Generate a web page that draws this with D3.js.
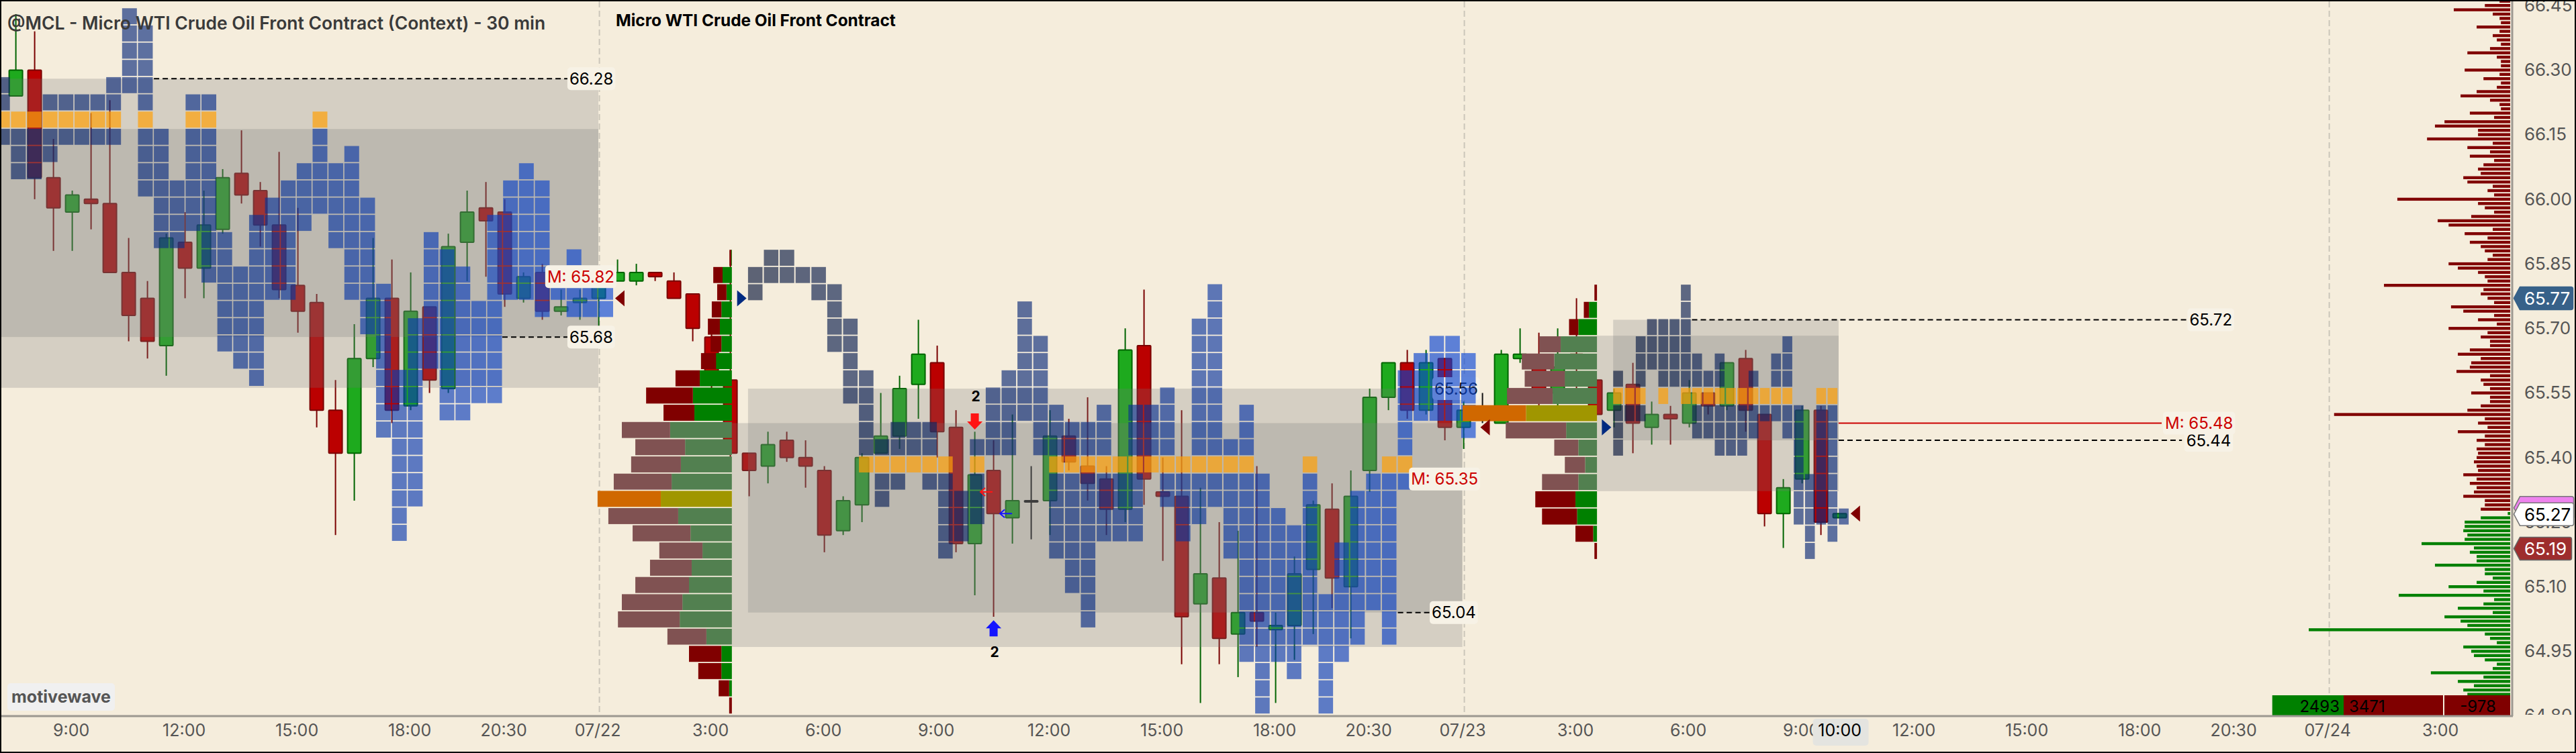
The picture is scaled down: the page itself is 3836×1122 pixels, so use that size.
<!DOCTYPE html>
<html lang="en">
	<head>
		<meta charset="UTF-8" />
		<script src="https://cdnjs.cloudflare.com/ajax/libs/d3/7.8.5/d3.min.js"></script>
		<title>@MCL - Micro WTI Crude Oil Front Contract</title>
		<style>
			html, body { margin: 0; padding: 0; background: #f5eddc; overflow: hidden; }
			svg { display: block; font-family: Inter, "Noto Sans", sans-serif; }
		</style>
	</head>
	<body>
		<div id="app"></div>
		<script>
			// 30 min bars, bar number is the x value
			const opens = [66.24,66.30,66.05,65.97,66.00,65.99,65.83,65.77,65.66,65.90,65.84,65.93,66.06,66.02,65.94,65.80,65.76,65.51,65.41,65.63,65.77,65.52,65.75,65.56,65.90,65.98,65.97,65.77,65.83,65.74,65.76,65.77,65.81,65.81,65.83,65.81,65.78,65.68,65.58,65.41,65.38,65.44,65.40,65.37,65.23,65.29,65.41,65.45,65.57,65.62,65.47,65.20,65.37,65.26,65.30,65.30,65.45,65.38,65.35,65.28,65.66,65.32,65.31,65.06,65.12,64.99,65.04,65.00,65.01,65.14,65.28,65.10,65.37,65.54,65.62,65.51,65.63,65.47,65.51,65.48,65.63,65.61,65.55,65.64,65.58,65.51,65.57,65.47,65.50,65.48,65.55,65.52,65.63,65.50,65.27,65.35,65.51,65.26]
			const highs = [66.43,66.39,66.14,66.02,66.20,66.23,65.91,65.81,65.92,65.97,66.02,66.07,66.16,66.04,66.11,65.98,65.78,65.58,65.71,65.91,65.86,65.83,65.75,65.92,66.02,66.04,66.00,65.83,65.85,65.79,65.79,65.81,65.86,65.85,65.83,65.83,65.78,65.69,65.88,65.41,65.46,65.46,65.44,65.38,65.31,65.41,65.55,65.59,65.72,65.66,65.51,65.46,65.44,65.50,65.38,65.51,65.49,65.54,65.38,65.70,65.79,65.40,65.51,65.33,65.25,65.23,65.38,65.04,65.17,65.30,65.34,65.37,65.56,65.62,65.65,65.65,65.63,65.53,65.55,65.65,65.70,65.69,65.70,65.77,65.60,65.56,65.62,65.53,65.52,65.58,65.55,65.62,65.65,65.50,65.35,65.52,65.52,65.27]
			const lows = [66.24,66.00,65.88,65.88,65.93,65.83,65.67,65.63,65.59,65.77,65.77,65.92,65.99,65.89,65.77,65.69,65.47,65.22,65.30,65.61,65.48,65.51,65.55,65.55,65.81,65.82,65.75,65.76,65.72,65.73,65.72,65.69,65.81,65.80,65.81,65.77,65.67,65.56,65.40,65.31,65.34,65.39,65.33,65.18,65.22,65.25,65.41,65.42,65.49,65.40,65.18,65.08,65.03,65.20,65.21,65.22,65.37,65.30,65.22,65.25,65.29,65.16,64.92,64.83,64.92,64.89,64.96,64.83,64.93,64.99,65.05,64.98,65.32,65.51,65.49,65.50,65.44,65.42,65.48,65.48,65.62,65.52,65.52,65.54,65.50,65.47,65.41,65.43,65.43,65.47,65.50,65.51,65.46,65.24,65.19,65.34,65.22,65.26]
			const closes = [66.30,66.05,65.98,66.01,65.99,65.83,65.73,65.67,65.91,65.84,65.94,66.05,66.01,65.94,65.79,65.74,65.51,65.41,65.63,65.77,65.51,65.74,65.58,65.89,65.97,65.95,65.78,65.82,65.74,65.75,65.77,65.80,65.83,65.83,65.82,65.77,65.70,65.60,65.41,65.37,65.43,65.40,65.38,65.22,65.30,65.40,65.45,65.56,65.64,65.46,65.20,65.36,65.27,65.30,65.30,65.45,65.39,65.34,65.28,65.65,65.35,65.31,65.03,65.13,64.98,65.04,65.02,65.01,65.13,65.29,65.12,65.31,65.54,65.62,65.51,65.62,65.47,65.51,65.51,65.64,65.64,65.55,65.61,65.62,65.50,65.55,65.48,65.50,65.49,65.55,65.52,65.62,65.51,65.27,65.33,65.51,65.25,65.27]

			// axes
			const tickBars = [3,9,15,21,26,31,37,43,49,55,61,67,72,77,83,89,95,101,107,113,118,123,129]
			const tickLabels = ['9:00','12:00','15:00','18:00','20:30','07/22','3:00','6:00','9:00','12:00','15:00','18:00','20:30','07/23','3:00','6:00','9:00','12:00','15:00','18:00','20:30','07/24','3:00']
			const priceTicks = [66.45,66.30,66.15,66.00,65.85,65.70,65.55,65.40,65.25,65.10,64.95,64.80]
			const dayBars = [31,77,123]

			// letter profile, column numbers per 4 cent row, top row first
			const tpoColsA = [
				[8],[8,9],[8,9],[8,9],[0,7,8,9],
				[0,3,4,5,6,7,9,12,13],
				[0,1,2,3,4,5,6,7,9,12,13,20],
				[0,1,2,3,4,5,6,7,9,10,12,13,20],
				[1,2,3,9,10,12,13,20,22],
				[1,2,9,10,12,13,19,20,21,22,33],
				[9,10,11,12,13,18,19,20,21,22,32,33,34],
				[10,11,12,13,17,18,19,20,21,22,23,32,33,34],
				[10,11,12,13,16,17,18,19,21,22,23,31,32,33,34],
				[10,11,13,14,16,17,18,21,22,23,27,31,32,33,34],
				[13,14,16,17,18,22,23,27,28,31,32,33,34,36],
				[13,14,15,16,17,18,22,23,27,28,29,31,32,33,34,36],
				[14,15,16,17,18,22,23,24,27,28,29,31,32,33,34,35,36,37,38],
				[14,15,16,23,24,27,28,29,30,31,34,36,37,38],
				[14,15,16,23,24,26,27,28,29,30,31],
				[14,15,16,24,26,27,28,29,30,31],
				[15,16,24,26,27,28,29,30,31],
				[16,24,25,26,28,29,30,31],
				[24,25,26,28,29,30,31],
				[24,25,26,28,29],
				[24,25,26],
				[25,26],[25,26],[25,26],[25,26],[25],[25]
			]
			const tpoColsB = [
				[1,2],
				[0,1,2,3,4],
				[0,4,5,29],
				[5,17,29],
				[5,6,17,28,29],
				[5,6,17,18,28,29,43,44],
				[6,17,18,28,29,42,43,44,45],
				[6,7,16,17,18,28,29,41,42,43,44,45],
				[6,7,15,16,17,18,26,28,29,41,42,43,44,45],
				[7,15,16,17,18,19,22,24,25,26,28,29,31,41,42,43,44,45],
				[7,9,10,11,15,16,18,19,20,21,22,24,25,26,28,29,31,41,45],
				[7,8,9,10,11,14,15,16,18,19,20,21,22,24,25,26,28,29,30,31,41],
				[7,8,9,10,11,12,14,19,20,21,22,23,24,25,26,27,28,29,30,31,35,40,41],
				[8,9,11,12,14,19,20,21,22,23,24,26,27,28,29,30,31,32,35,39,40,41],
				[8,12,13,14,19,20,21,22,23,24,26,27,28,29,30,31,32,35,38,39,40],
				[12,13,14,19,20,21,22,23,24,27,28,30,31,32,33,35,38,39,40],
				[12,13,19,20,21,22,23,24,27,30,31,32,33,34,35,38,39,40],
				[12,19,20,21,30,31,32,33,34,35,37,38,39,40],
				[20,21,31,32,33,34,35,37,38,39,40],
				[20,21,31,32,33,34,35,37,38,39,40],
				[21,31,32,33,34,35,36,37,38,39,40],
				[21,31,32,33,34,35,36,37,38,40],
				[31,32,33,34,35,36,37,38,40],
				[31,32,33,34,36,37],
				[32,34,36],
				[32,36],
				[32,36]
			]
			const tpoColsC = [
				[6],[6],[3,4,5,6],
				[2,3,4,5,6,15],
				[2,3,4,5,6,7,9,14,15],
				[0,2,4,5,6,7,8,9,12,14,15],
				[0,1,2,4,6,7,8,9,10,11,12,13,14,15,18,19],
				[0,1,2,7,8,9,10,11,12,13,14,15,16,18,19],
				[0,7,8,9,10,11,12,15,16,18,19],
				[0,9,10,11,16,18,19],
				[16,18,19],
				[16,17,18,19],
				[16,17,18,19],
				[16,17,18,19,20],
				[17,19],
				[17]
			]
			const tpoTopRow = [66.425,65.864,65.783]
			const tpoPocRow = [6,12,6]

			// volume by price next to each day, 4 cent rows, same row order as above
			const sellB = [6,31,31,32,40,36,50,81,156,103,161,166,166,193,211,233,193,144,139,179,202,206,130,108,77,35,9]
			const buyB = [2,31,18,35,40,35,53,107,130,125,206,156,170,201,237,179,138,98,134,143,165,174,85,35,35,9,0]
			const sellC = [8,16,29,66,101,125,142,197,188,75,63,113,125,109,55,8]
			const buyC = [0,25,58,113,133,100,138,221,96,58,37,58,67,62,12,0]

			// value areas
			const zoneTop = [66.163,66.28,65.48,65.56,65.683,65.72]
			const zoneBottom = [65.562,65.68,64.96,65.04,65.322,65.44]
			const zoneFrom = [-1,-1,38.08,38.94,84.09,84.95]
			const zoneTo = [30.98,30.98,76.93,76.93,96.94,96.94]

			// volume at price on the right, one row per cent, 66.46 down to 64.85
			const askVol = [39,93,207,64,39,34,123,39,64,49,34,74,157,49,34,34,167,39,98,34,49,123,182,74,39,34,148,59,241,276,118,118,305,64,157,74,148,59,98,118,108,172,157,64,83,59,414,118,93,59,143,266,226,64,167,83,148,108,93,64,83,226,192,118,93,83,463,98,108,83,59,217,172,59,118,49,226,83,108,74,74,148,192,108,143,148,197,74,108,98,74,143,74,74,108,157,646,93,118,83,192,93,123,93,123,118,123,133,123,118,172,123,148,123,133,172,93,93,108]
			const bidVol = [9,108,167,167,172,157,167,325,133,148,123,123,276,93,93,64,123,226,98,409,59,98,192,64,241,182,157,739,93,74,49,172,143,133,93,49,64,291,98,192,133,172,157]

			// text on the chart
			const levelPrices = [66.28,65.68,65.56,65.04,65.72,65.44]
			const levelFromBars = [7.34,25.87,null,73.5,89.14,96.94]
			const levelToBars = [29.34,29.34,null,75.18,115.55,115.2]
			const levelTextBars = [29.44,29.44,75.44,75.3,115.6,115.43]
			const midPrices = [65.82,65.35,65.48]
			const midTextBars = [28.26,74.2,114.3]
			const tagPrices = [65.77,65.27,65.19]
			const tagText = ['65.77','65.27','65.19']
			const sessionEndBars = [31.87,77.89,97.58]
			const sessionEndPrices = [65.77,65.47,65.27]
			const sessionOpenBars = [38.86,84.85]
			const sessionOpenPrices = [65.77,65.47]
			const deltaBuy = 2493
			const deltaSell = 3471
			const deltaNet = -978

			const width = 3836
			const height = 1122
			const axisX = 3741
			const axisY = 1067
			const bg = '#f5eddc'

			const x = d3.scaleLinear().domain([0, 100]).range([23.6, 2823.6])
			const y = d3.scaleLinear().domain([65.7, 64.8]).range([489.3, 1066.65])

			const svg = d3
				.select('#app')
				.append('svg')
				.attr('width', width)
				.attr('height', height)

			svg.append('rect').attr('width', width).attr('height', height).attr('fill', bg)

			const defs = svg.append('defs')
			defs.append('clipPath').attr('id', 'priceClip').append('rect').attr('x', axisX).attr('y', 0).attr('width', 100).attr('height', axisY - 2)

			// day separators
			svg.append('g')
				.selectAll('line')
				.data(dayBars)
				.join('line')
				.attr('x1', d => x(d) + 1)
				.attr('x2', d => x(d) + 1)
				.attr('y1', 2)
				.attr('y2', axisY - 5)
				.attr('stroke', '#cbc6ba')
				.attr('stroke-width', 2)
				.attr('stroke-dasharray', '9 5')

			// candles
			const barData = opens.map((o, i) => ({ i, o, h: highs[i], l: lows[i], c: closes[i] }))
			const wickColor = d => (d.c > d.o ? '#006400' : d.c < d.o ? '#7a0000' : '#111')
			const bodyColor = d => (d.c > d.o ? '#1eaa1e' : d.c < d.o ? '#bb0000' : '#111')
			const candle = svg.append('g').selectAll('g').data(barData).join('g')
			candle
				.append('line')
				.attr('x1', d => x(d.i))
				.attr('x2', d => x(d.i))
				.attr('y1', d => y(d.h))
				.attr('y2', d => y(d.l))
				.attr('stroke', wickColor)
				.attr('stroke-width', 2)
			candle
				.append('rect')
				.attr('x', d => x(d.i) - 10)
				.attr('width', 20)
				.attr('y', d => y(Math.max(d.o, d.c)))
				.attr('height', d => Math.max(2, Math.abs(y(d.o) - y(d.c))))
				.attr('fill', bodyColor)
				.attr('stroke', wickColor)
				.attr('stroke-width', 2)
				.attr('rx', 1)

			// value area boxes, they lie over the candles
			svg.append('g')
				.selectAll('rect')
				.data(zoneTop)
				.join('rect')
				.attr('x', (d, i) => Math.max(0, x(zoneFrom[i])))
				.attr('width', (d, i) => x(zoneTo[i]) - Math.max(0, x(zoneFrom[i])))
				.attr('y', d => y(d))
				.attr('height', (d, i) => y(zoneBottom[i]) - y(d))
				.attr('fill', '#787878')
				.attr('fill-opacity', 0.25)

			// level lines and their labels, blue cells go over them
			function tagLabel(g, px, py, txt, color, size) {
				const t = g
					.append('text')
					.attr('x', px)
					.attr('y', py)
					.attr('dy', '0.36em')
					.attr('font-size', size)
					.attr('fill', color)
					.text(txt)
				const box = t.node().getBBox()
				g.insert('rect', 'text')
					.attr('x', box.x - 3)
					.attr('y', py - 17)
					.attr('width', box.width + 6)
					.attr('height', 34)
					.attr('rx', 5)
					.attr('fill', '#f7f2e6')
			}

			const levels = svg.append('g')
			levelPrices.forEach((p, i) => {
				if (levelFromBars[i] !== null) {
					levels
						.append('line')
						.attr('x1', x(levelFromBars[i]))
						.attr('x2', x(levelToBars[i]))
						.attr('y1', y(p))
						.attr('y2', y(p))
						.attr('stroke', '#000')
						.attr('stroke-width', 2)
						.attr('stroke-dasharray', '8 5')
				}
				const color = i === 2 ? '#111' : '#000'
				tagLabel(levels.append('g'), x(levelTextBars[i]), y(p), p.toFixed(2), color, 24)
			})

			// letter profile cells
			const cellColor = d3.scaleLinear().domain([0, 1]).range(['rgb(11,25,62)', 'rgb(11,70,214)'])
			const tpoSets = [tpoColsA, tpoColsB, tpoColsC]
			const tpoLeft = [-7.3, 1113.9, 2402.3]
			const tpoStep = [23.64, 23.6, 16.8]
			const tpoWidth = [22, 21.6, 14.6]
			const tpoTime = [d => 0.25 + d * 0.0197, d => d / 45, d => d / 45]
			const rowH = 0.04

			tpoSets.forEach((rows, s) => {
				const cells = []
				rows.forEach((cols, r) => cols.forEach(c => cells.push({ r, c })))
				svg.append('g')
					.selectAll('rect')
					.data(cells)
					.join('rect')
					.attr('x', d => tpoLeft[s] + tpoStep[s] * d.c)
					.attr('width', tpoWidth[s])
					.attr('y', d => y(tpoTopRow[s] - rowH * d.r + rowH / 2) + 0.9)
					.attr('height', y(0) - y(rowH) - 1.8)
					.attr('fill', d => (d.r === tpoPocRow[s] ? 'rgb(254,160,9)' : cellColor(tpoTime[s](d.c))))
					.attr('fill-opacity', d => (d.r === tpoPocRow[s] ? 0.7 : 0.65))
			})

			// volume by price of the day
			function drawProfile(sell, buy, s, rightPx, maxVol, pocRow, vaFrom, vaTo) {
				const w = d3.scaleLinear().domain([0, maxVol]).range([0, 200])
				const g = svg.append('g')
				const rowTop = r => y(tpoTopRow[s] - rowH * r + rowH / 2) + 0.9
				const h = y(0) - y(rowH) - 1.8
				sell.forEach((v, r) => {
					const inVa = r >= vaFrom && r <= vaTo
					const buyW = w(buy[r])
					const sellW = w(v)
					g.append('rect')
						.attr('x', rightPx - buyW)
						.attr('width', buyW)
						.attr('y', rowTop(r))
						.attr('height', h)
						.attr('fill', r === pocRow ? '#a09600' : inVa ? '#528050' : '#008000')
					g.append('rect')
						.attr('x', rightPx - buyW - sellW)
						.attr('width', sellW)
						.attr('y', rowTop(r))
						.attr('height', h)
						.attr('fill', r === pocRow ? '#d06800' : inVa ? '#805252' : '#800000')
				})
			}
			drawProfile(sellB, buyB, 1, x(38.08), 448, 14, 10, 22)
			drawProfile(sellC, buyC, 2, x(84.09), 418, 7, 3, 11)

			// midpoint labels
			const mids = svg.append('g')
			mids.append('line')
				.attr('x1', x(zoneTo[5]))
				.attr('x2', 3219)
				.attr('y1', y(midPrices[2]))
				.attr('y2', y(midPrices[2]))
				.attr('stroke', '#cc0000')
				.attr('stroke-width', 2)
			midPrices.forEach((p, i) => {
				tagLabel(mids.append('g'), x(midTextBars[i]), y(p), 'M: ' + p.toFixed(2), '#cc0000', 24)
			})

			// session open and close markers
			const tri = svg.append('g')
			tri.selectAll('path.end')
				.data(sessionEndBars)
				.join('path')
				.attr('class', 'end')
				.attr('d', (d, i) => `M${x(d)},${y(sessionEndPrices[i])}l14,-12v24z`)
				.attr('fill', '#800000')
			tri.selectAll('path.open')
				.data(sessionOpenBars)
				.join('path')
				.attr('class', 'open')
				.attr('d', (d, i) => `M${x(d)},${y(sessionOpenPrices[i])}l-14,-12v24z`)
				.attr('fill', '#002a80')

			// pivot arrows with their count
			const marks = svg.append('g')
			marks.append('path').attr('d', `M${x(51)},${y(65.465)}l-11.5,-12h5.5v-12h12v12h5.5z`).attr('fill', '#ff1414')
			marks.append('path').attr('d', `M${x(52)},${y(65.022)}l-11.5,12h5.5v12h12v-12h5.5z`).attr('fill', '#1414ff')
			marks.append('text').attr('x', x(51.05)).attr('y', y(65.543)).attr('dy', '0.36em').attr('text-anchor', 'middle').attr('font-size', 21).attr('font-weight', 700).attr('fill', '#000').text('2')
			marks.append('text').attr('x', x(52.05)).attr('y', y(64.949)).attr('dy', '0.36em').attr('text-anchor', 'middle').attr('font-size', 21).attr('font-weight', 700).attr('fill', '#000').text('2')
			marks.append('path').attr('d', `M${x(51.3) + 18},${y(65.32)}h-18m7,-6l-7,6l7,6`).attr('fill', 'none').attr('stroke', '#ff1414').attr('stroke-width', 2)
			marks.append('path').attr('d', `M${x(52.34) + 18},${y(65.27)}h-18m7,-6l-7,6l7,6`).attr('fill', 'none').attr('stroke', '#1414ff').attr('stroke-width', 2)

			// volume at price on the right edge
			const volRight = 3738
			const volW = d3.scaleLinear().domain([0, 739]).range([0, 300])
			const volRows = askVol.map((v, i) => ({ v, p: 66.46 - i * 0.01, c: '#800000' })).concat(bidVol.map((v, i) => ({ v, p: 65.27 - i * 0.01, c: '#008000' })))
			svg.append('g')
				.selectAll('rect')
				.data(volRows)
				.join('rect')
				.attr('x', d => volRight - volW(d.v))
				.attr('width', d => volW(d.v))
				.attr('y', d => y(d.p) - 2.2)
				.attr('height', 4.4)
				.attr('fill', d => d.c)

			// delta box at the bottom
			const deltaW = d3.scaleLinear().domain([0, deltaSell]).range([0, 148])
			const delta = svg.append('g')
			const deltaLeft = 3490 - deltaW(deltaBuy)
			delta.append('rect').attr('x', deltaLeft).attr('y', 1036).attr('width', deltaW(deltaBuy)).attr('height', 31).attr('fill', '#008000')
			delta.append('rect').attr('x', 3490).attr('y', 1036).attr('width', deltaW(deltaSell)).attr('height', 31).attr('fill', '#800000')
			delta.append('rect').attr('x', 3640).attr('y', 1036).attr('width', 98).attr('height', 31).attr('fill', '#800000')
			delta.append('text').attr('x', 3484).attr('y', 1052).attr('dy', '0.36em').attr('text-anchor', 'end').attr('font-size', 24).attr('fill', '#000').text(deltaBuy)
			delta.append('text').attr('x', 3498).attr('y', 1052).attr('dy', '0.36em').attr('font-size', 24).attr('fill', '#000').text(deltaSell)
			delta.append('text').attr('x', 3690).attr('y', 1052).attr('dy', '0.36em').attr('text-anchor', 'middle').attr('font-size', 24).attr('fill', '#000').text(deltaNet)

			// time axis
			const xAxis = d3.axisBottom(x).tickValues(tickBars).tickSize(0).tickFormat((d, i) => tickLabels[i])
			const xG = svg.append('g').attr('transform', `translate(-2, ${axisY})`).call(xAxis)
			xG.select('.domain').remove()
			xG.selectAll('text').attr('y', 21).attr('dy', '0.36em').attr('font-size', 25).attr('font-family', 'Inter').attr('fill', '#555')

			svg.append('rect').attr('x', x(97) - 40).attr('y', 1071).attr('width', 83).attr('height', 40).attr('rx', 5).attr('fill', '#e4e4e0')
			svg.append('text').attr('x', x(97)).attr('y', 1088).attr('dy', '0.36em').attr('text-anchor', 'middle').attr('font-size', 25).attr('fill', '#000').text('10:00')

			// price axis
			const yAxis = d3.axisRight(y).tickValues(priceTicks).tickSize(0).tickFormat(d3.format('.2f'))
			const yG = svg.append('g').attr('clip-path', 'url(#priceClip)').append('g').attr('transform', `translate(${axisX}, 0)`).call(yAxis)
			yG.select('.domain').remove()
			yG.selectAll('text').attr('x', 18).attr('font-size', 26).attr('font-family', 'Inter').attr('fill', '#555')

			svg.append('line').attr('x1', 0).attr('x2', axisX + 1).attr('y1', axisY).attr('y2', axisY).attr('stroke', '#9c9890').attr('stroke-width', 3)
			svg.append('line').attr('x1', axisX).attr('x2', axisX).attr('y1', 0).attr('y2', axisY).attr('stroke', '#9c9890').attr('stroke-width', 3)

			// price tags on the axis
			const tagShape = (cy, right) => `M3743.5,${cy}l9,-17h${right - 3756}q3,0 3,3v28q0,3 -3,3h-${right - 3756}z`
			svg.append('path').attr('d', tagShape(y(65.283), 3833)).attr('fill', '#ee82ee').attr('stroke', '#777').attr('stroke-width', 1.5)
			const tagFill = ['#376189', '#ffffff', '#9e2d2d']
			const tagStroke = ['#376189', '#777', '#666']
			const tagInk = ['#fff', '#000', '#fff']
			const tagRight = [3832, 3833, 3830]
			tagPrices.forEach((p, i) => {
				svg.append('path').attr('d', tagShape(y(p) + (i === 0 ? 0 : 1), tagRight[i])).attr('fill', tagFill[i]).attr('stroke', tagStroke[i]).attr('stroke-width', 1.5)
				svg.append('text').attr('x', 3759).attr('y', y(p) + (i === 0 ? 0 : 1)).attr('dy', '0.36em').attr('font-size', 26).attr('fill', tagInk[i]).text(tagText[i])
			})

			// titles and badge
			svg.append('text').attr('x', 11).attr('y', 34).attr('dy', '0.36em').attr('font-size', 26.5).attr('font-weight', 600).attr('fill', '#3a3a3a').text('@MCL - Micro WTI Crude Oil Front Contract (Context) - 30 min')
			svg.append('text').attr('x', 917).attr('y', 30).attr('dy', '0.36em').attr('font-size', 24.4).attr('font-weight', 700).attr('fill', '#000').text('Micro WTI Crude Oil Front Contract')
			svg.append('rect').attr('x', 11).attr('y', 1018).attr('width', 160).attr('height', 41).attr('rx', 5).attr('fill', '#f0f0f0')
			svg.append('text').attr('x', 91).attr('y', 1038).attr('dy', '0.36em').attr('text-anchor', 'middle').attr('font-size', 25).attr('font-weight', 700).attr('fill', '#555').text('motivewave')

			svg.append('rect').attr('x', 1).attr('y', 1).attr('width', width - 2).attr('height', height - 2).attr('fill', 'none').attr('stroke', '#000').attr('stroke-width', 2)
		</script>
	</body>
</html>
